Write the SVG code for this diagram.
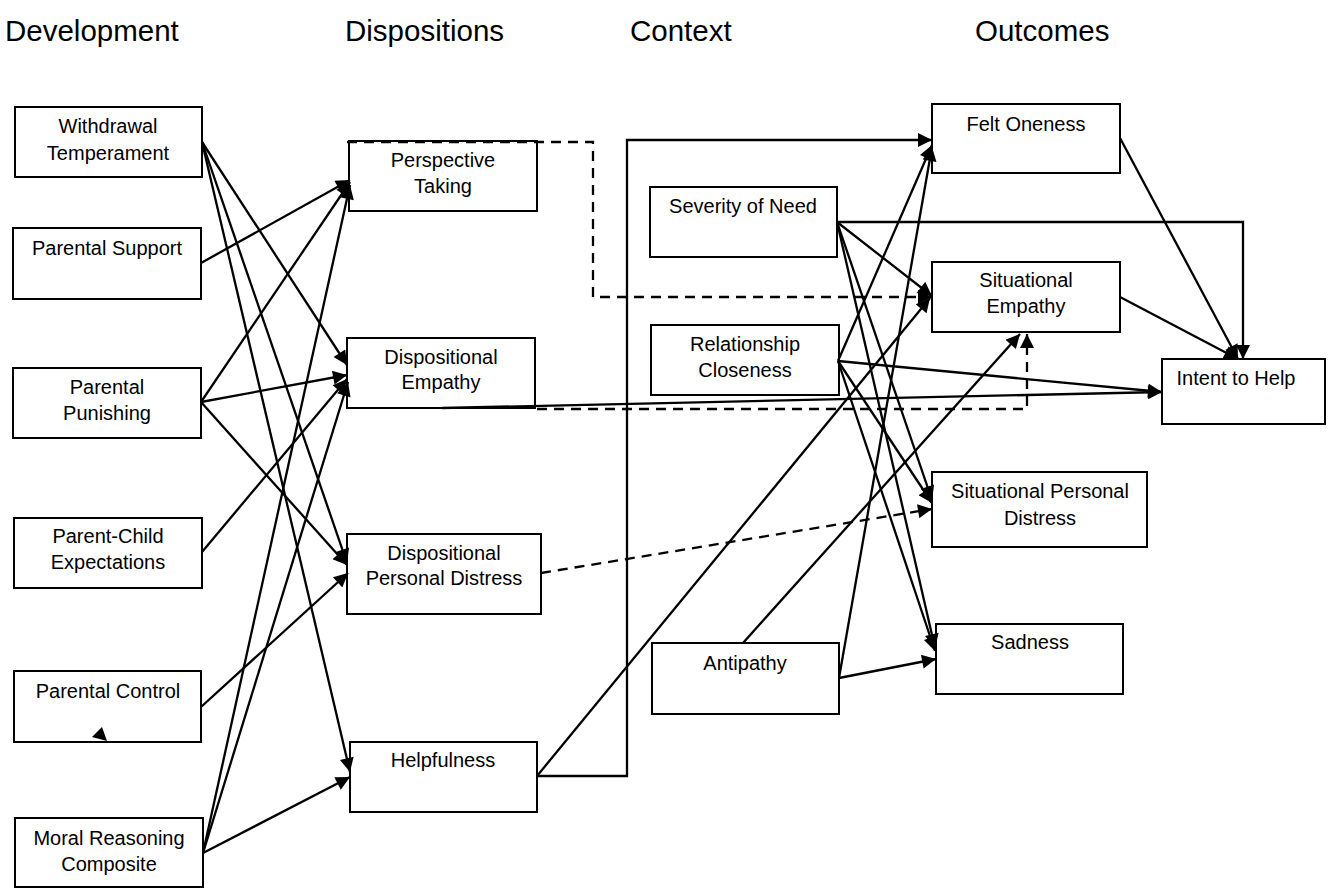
<svg xmlns="http://www.w3.org/2000/svg" width="1334" height="888" viewBox="0 0 1334 888">
<defs>
<marker id="ah" viewBox="0 0 10 10" refX="10" refY="5" markerWidth="18" markerHeight="14" markerUnits="userSpaceOnUse" orient="auto">
<path d="M0,0 L10,5 L0,10 z" fill="#000"/>
</marker>
<style>
.box{fill:#fff;stroke:#000;stroke-width:2}
.lbl{font-family:"Liberation Sans",Arial,sans-serif;font-size:20px;fill:#000;text-anchor:middle}
.hdr{font-family:"Liberation Sans",Arial,sans-serif;font-size:29.5px;fill:#000}
.c{fill:none;stroke:#000;stroke-width:2.3;marker-end:url(#ah)}
.d{fill:none;stroke:#000;stroke-width:2.3;stroke-dasharray:10,7;marker-end:url(#ah)}
</style>
</defs>
<rect width="1334" height="888" fill="#fff"/>
<g id="headers">
<text class="hdr" x="5" y="41">Development</text>
<text class="hdr" x="345" y="41">Dispositions</text>
<text class="hdr" x="630" y="41">Context</text>
<text class="hdr" x="975" y="41">Outcomes</text>
</g>
<g id="n-wt"><rect class="box" x="15" y="107" width="187" height="70"/><text class="lbl" x="108" y="133">Withdrawal</text><text class="lbl" x="108" y="160">Temperament</text></g>
<g id="n-ps"><rect class="box" x="13" y="228" width="188" height="71"/><text class="lbl" x="107" y="255">Parental Support</text></g>
<g id="n-pp"><rect class="box" x="13" y="368" width="188" height="70"/><text class="lbl" x="107" y="394">Parental</text><text class="lbl" x="107" y="420">Punishing</text></g>
<g id="n-pce"><rect class="box" x="14" y="518" width="188" height="70"/><text class="lbl" x="108" y="543">Parent-Child</text><text class="lbl" x="108" y="569">Expectations</text></g>
<g id="n-pc"><rect class="box" x="14" y="671" width="187" height="71"/><text class="lbl" x="108" y="698">Parental Control</text></g>
<g id="n-mr"><rect class="box" x="15" y="818" width="188" height="69"/><text class="lbl" x="109" y="845">Moral Reasoning</text><text class="lbl" x="109" y="871">Composite</text></g>
<g id="n-pt"><rect class="box" x="349" y="141" width="188" height="70"/><text class="lbl" x="443" y="167">Perspective</text><text class="lbl" x="443" y="193">Taking</text></g>
<g id="n-de"><rect class="box" x="347" y="338" width="188" height="70"/><text class="lbl" x="441" y="364">Dispositional</text><text class="lbl" x="441" y="389">Empathy</text></g>
<g id="n-dpd"><rect class="box" x="347" y="534" width="194" height="80"/><text class="lbl" x="444" y="560">Dispositional</text><text class="lbl" x="444" y="585">Personal Distress</text></g>
<g id="n-help"><rect class="box" x="350" y="742" width="187" height="70"/><text class="lbl" x="443" y="767">Helpfulness</text></g>
<g id="n-sev"><rect class="box" x="650" y="187" width="187" height="70"/><text class="lbl" x="743" y="213">Severity of Need</text></g>
<g id="n-rc"><rect class="box" x="651" y="325" width="188" height="70"/><text class="lbl" x="745" y="351">Relationship</text><text class="lbl" x="745" y="377">Closeness</text></g>
<g id="n-ant"><rect class="box" x="652" y="643" width="187" height="71"/><text class="lbl" x="745" y="670">Antipathy</text></g>
<g id="n-fo"><rect class="box" x="932" y="104" width="188" height="69"/><text class="lbl" x="1026" y="131">Felt Oneness</text></g>
<g id="n-se"><rect class="box" x="932" y="262" width="188" height="70"/><text class="lbl" x="1026" y="287">Situational</text><text class="lbl" x="1026" y="313">Empathy</text></g>
<g id="n-ith"><rect class="box" x="1162" y="359" width="163" height="65"/><text class="lbl" x="1236" y="385">Intent to Help</text></g>
<g id="n-spd"><rect class="box" x="932" y="472" width="215" height="75"/><text class="lbl" x="1040" y="498">Situational Personal</text><text class="lbl" x="1040" y="525">Distress</text></g>
<g id="n-sad"><rect class="box" x="936" y="624" width="187" height="70"/><text class="lbl" x="1030" y="649">Sadness</text></g>
<g id="connectors">
<line class="c" x1="202" y1="142" x2="347" y2="365"/>
<line class="c" x1="202" y1="142" x2="347" y2="563"/>
<line class="c" x1="202" y1="142" x2="350" y2="772"/>
<line class="c" x1="201" y1="263" x2="350" y2="180"/>
<line class="c" x1="201" y1="402" x2="350" y2="182"/>
<line class="c" x1="201" y1="402" x2="347" y2="375"/>
<line class="c" x1="201" y1="402" x2="347" y2="565"/>
<line class="c" x1="202" y1="552" x2="347" y2="379"/>
<line class="c" x1="201" y1="707" x2="348" y2="573"/>
<line class="c" x1="203" y1="853" x2="350" y2="185"/>
<line class="c" x1="203" y1="853" x2="348" y2="382"/>
<line class="c" x1="203" y1="853" x2="350" y2="777"/>
<line class="c" x1="442" y1="408" x2="1162" y2="392"/>
<polyline class="d" points="537,409 1027,409 1027,334"/>
<polyline class="d" points="347,142 593,142 593,297 932,297"/>
<line class="d" x1="541" y1="573" x2="932" y2="509"/>
<polyline class="c" points="537,776 627,776 627,140 932,140"/>
<line class="c" x1="537" y1="776" x2="930" y2="298"/>
<polyline class="c" points="837,222 1243,222 1243,359"/>
<line class="c" x1="837" y1="222" x2="932" y2="296"/>
<line class="c" x1="837" y1="222" x2="932" y2="500"/>
<line class="c" x1="837" y1="222" x2="935" y2="648"/>
<line class="c" x1="838" y1="361" x2="932" y2="145"/>
<line class="c" x1="838" y1="361" x2="932" y2="503"/>
<line class="c" x1="838" y1="361" x2="935" y2="651"/>
<line class="c" x1="838" y1="361" x2="1162" y2="392"/>
<line class="c" x1="743" y1="643" x2="1020" y2="334"/>
<line class="c" x1="839" y1="678" x2="932" y2="147"/>
<line class="c" x1="839" y1="678" x2="936" y2="659"/>
<line class="c" x1="1120" y1="138" x2="1238" y2="359"/>
<line class="c" x1="1120" y1="297" x2="1238" y2="359"/>
<polygon points="92,737 102,727 107,741" fill="#000"/>
</g>
</svg>
